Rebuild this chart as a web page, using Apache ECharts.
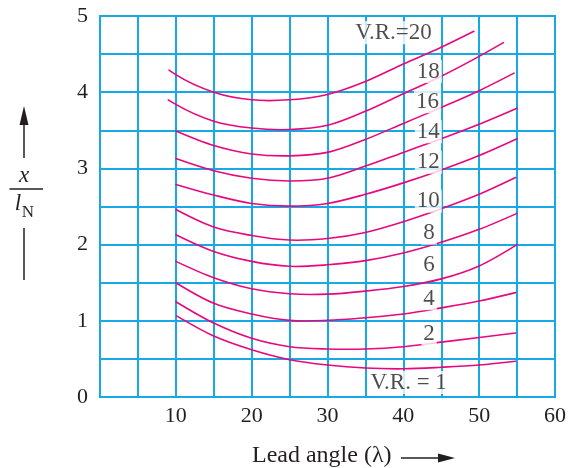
<!DOCTYPE html>
<html><head><meta charset="utf-8">
<script src="https://cdn.jsdelivr.net/npm/echarts@6/dist/echarts.min.js"></script>
<style>html,body{margin:0;padding:0;background:#fff}#c{width:569px;height:468px}</style>
</head><body><div id="c"></div>
<script>
// ---- data (lead angle λ in degrees, x / l_N) ----
const xTickLabels = [10, 20, 30, 40, 50, 60];
const yTickLabels = [0, 1, 2, 3, 4, 5];
const vr20 = [[9.1,4.29],[10,4.23],[15,4.00],[20,3.90],[25,3.90],[30,3.97],[35,4.14],[40,4.37],[45,4.59],[49.3,4.80]];
const vr18 = [[9.0,3.90],[10,3.84],[15,3.62],[20,3.53],[25,3.51],[30,3.565],[35,3.75],[40,3.98],[45,4.21],[50,4.47],[53.2,4.65]];
const vr16 = [[10,3.49],[15,3.30],[20,3.19],[25,3.165],[30,3.21],[35,3.38],[40,3.59],[45,3.80],[50,4.02],[54.6,4.25]];
const vr14 = [[10,3.13],[15,2.97],[20,2.87],[25,2.835],[30,2.87],[35,3.03],[40,3.21],[45,3.39],[50,3.58],[55,3.79]];
const vr12 = [[10,2.79],[15,2.65],[20,2.54],[25,2.505],[30,2.54],[35,2.66],[40,2.81],[45,2.98],[50,3.17],[55,3.39]];
const vr10 = [[10,2.46],[15,2.23],[20,2.12],[25,2.06],[30,2.08],[35,2.16],[40,2.30],[45,2.47],[50,2.66],[54.8,2.88]];
const vr8  = [[10,2.13],[15,1.91],[20,1.78],[25,1.715],[30,1.735],[35,1.79],[40,1.89],[45,2.03],[50,2.20],[55,2.41]];
const vr6  = [[10,1.78],[15,1.565],[20,1.42],[25,1.355],[30,1.35],[35,1.39],[40,1.45],[45,1.55],[50,1.72],[55,2.00]];
const vr4  = [[10,1.50],[15,1.23],[20,1.09],[25,1.005],[30,1.005],[35,1.04],[40,1.09],[45,1.17],[50,1.26],[54.8,1.37]];
const vr2  = [[10,1.25],[15,0.97],[20,0.77],[25,0.66],[30,0.63],[35,0.63],[40,0.66],[45,0.72],[50,0.78],[54.8,0.84]];
const vr1  = [[10.1,1.065],[15,0.80],[20,0.62],[25,0.49],[30,0.42],[35,0.38],[40,0.37],[45,0.39],[50,0.42],[54.8,0.47]];
const curveNames = ['20','18','16','14','12','10','8','6','4','2','1'];
const labelText = ['V.R.=20','18','16','14','12','10','8','6','4','2','V.R. = 1'];
const labelX = [38.7, 43.3, 43.2, 43.3, 43.3, 43.3, 43.4, 43.4, 43.4, 43.4, 40.7];
const labelY = [4.78, 4.27, 3.875, 3.48, 3.08, 2.57, 2.15, 1.73, 1.29, 0.83, 0.19];

// ---- styles ----
const GRID = '#17a9e6';
const CURVE = '#e6087f';
const FONT = '"Liberation Serif", "Times New Roman", serif';

// smooth curve: each data item draws the cubic Hermite segment to the next point
function slopes(p) {
  const n = p.length, m = new Array(n);
  for (let i = 1; i < n - 1; i++) {
    const h0 = p[i][0] - p[i-1][0], h1 = p[i+1][0] - p[i][0];
    const d0 = (p[i][1] - p[i-1][1]) / h0, d1 = (p[i+1][1] - p[i][1]) / h1;
    m[i] = (h1 * d0 + h0 * d1) / (h0 + h1);
  }
  const dA = (p[1][1] - p[0][1]) / (p[1][0] - p[0][0]);
  const dB = (p[n-1][1] - p[n-2][1]) / (p[n-1][0] - p[n-2][0]);
  m[0] = n > 2 ? 1.5 * dA - 0.5 * m[1] : dA;
  m[n-1] = n > 2 ? 1.5 * dB - 0.5 * m[n-2] : dB;
  return m;
}
function makeRender(curve) {
  return function (params, api) {
    const i = params.dataIndex;
    if (i >= curve.length - 1) return null;
    const px = curve.map(d => api.coord(d));
    const m = slopes(px);
    const a = px[i], b = px[i+1], h = b[0] - a[0];
    return {
      type: 'bezierCurve',
      shape: { x1: a[0], y1: a[1], x2: b[0], y2: b[1],
        cpx1: a[0] + h / 3, cpy1: a[1] + m[i] * h / 3,
        cpx2: b[0] - h / 3, cpy2: b[1] - m[i+1] * h / 3 },
      style: { stroke: CURVE, lineWidth: 1.6, fill: null, lineCap: 'round' }
    };
  };
}

const curves = [vr20, vr18, vr16, vr14, vr12, vr10, vr8, vr6, vr4, vr2, vr1];
const series = curves.map((d, i) => ({
  name: 'V.R.=' + curveNames[i],
  type: 'custom', data: d, renderItem: makeRender(d),
  encode: { x: 0, y: 1 }, silent: true, z: 3, clip: false
}));
series.push({
  type: 'scatter', silent: true, z: 5, symbolSize: 1,
  itemStyle: { color: 'rgba(0,0,0,0)' },
  data: labelText.map((t, i) => ({ name: t, value: [labelX[i], labelY[i]] })),
  label: { show: true, position: 'inside', formatter: p => p.name,
    fontFamily: FONT, fontSize: 23, color: '#231f20',
    backgroundColor: '#fff', padding: [0, 2] }
});

const chart = echarts.init(document.getElementById('c'), null, { renderer: 'canvas' });
chart.setOption({
  animation: false,
  backgroundColor: '#fff',
  grid: { left: 100, right: 12, top: 16, bottom: 71, show: true, borderColor: GRID, borderWidth: 2 },
  xAxis: {
    type: 'value', min: 0, max: 60, interval: 5,
    axisLine: { show: true, lineStyle: { color: GRID, width: 2 } },
    axisTick: { show: false },
    splitLine: { show: true, lineStyle: { color: GRID, width: 2 } },
    axisLabel: { margin: 8, fontFamily: FONT, fontSize: 22, color: '#231f20',
      formatter: v => xTickLabels.includes(v) ? String(v) : '' }
  },
  yAxis: {
    type: 'value', min: 0, max: 5, interval: 0.5,
    axisLine: { show: true, lineStyle: { color: GRID, width: 2 } },
    axisTick: { show: false },
    splitLine: { show: true, lineStyle: { color: GRID, width: 2 } },
    axisLabel: { margin: 12, fontFamily: FONT, fontSize: 22, color: '#231f20',
      formatter: v => yTickLabels.includes(v) ? String(v) : '' }
  },
  series: series,
  graphic: [
    // y-axis title: arrow up, x / l_N, line
    { type: 'line', shape: { x1: 24, y1: 158, x2: 24, y2: 118 }, style: { stroke: '#231f20', lineWidth: 1.5 } },
    { type: 'polygon', shape: { points: [[24, 106], [19.5, 125], [28.5, 125]] }, style: { fill: '#231f20' } },
    { type: 'text', x: 24, y: 176, style: { text: 'x', font: 'italic 23px ' + FONT, fill: '#231f20', align: 'center', verticalAlign: 'middle' } },
    { type: 'line', shape: { x1: 9.5, y1: 189, x2: 43, y2: 189 }, style: { stroke: '#231f20', lineWidth: 1.5 } },
    { type: 'text', x: 18, y: 204, style: { text: 'l', font: 'italic 23px ' + FONT, fill: '#231f20', align: 'center', verticalAlign: 'middle' } },
    { type: 'text', x: 28, y: 213, style: { text: 'N', font: '17px ' + FONT, fill: '#231f20', align: 'center', verticalAlign: 'middle' } },
    { type: 'line', shape: { x1: 24, y1: 228, x2: 24, y2: 280 }, style: { stroke: '#231f20', lineWidth: 1.5 } },
    // x-axis title with arrow
    { type: 'text', x: 252, y: 456, style: { text: 'Lead angle (λ)', font: '24px ' + FONT, fill: '#231f20', align: 'left', verticalAlign: 'middle' } },
    { type: 'line', shape: { x1: 401, y1: 458, x2: 443, y2: 458 }, style: { stroke: '#231f20', lineWidth: 1.5 } },
    { type: 'polygon', shape: { points: [[455, 458], [438, 453.5], [438, 462.5]] }, style: { fill: '#231f20' } }
  ]
});
</script>
</body></html>
